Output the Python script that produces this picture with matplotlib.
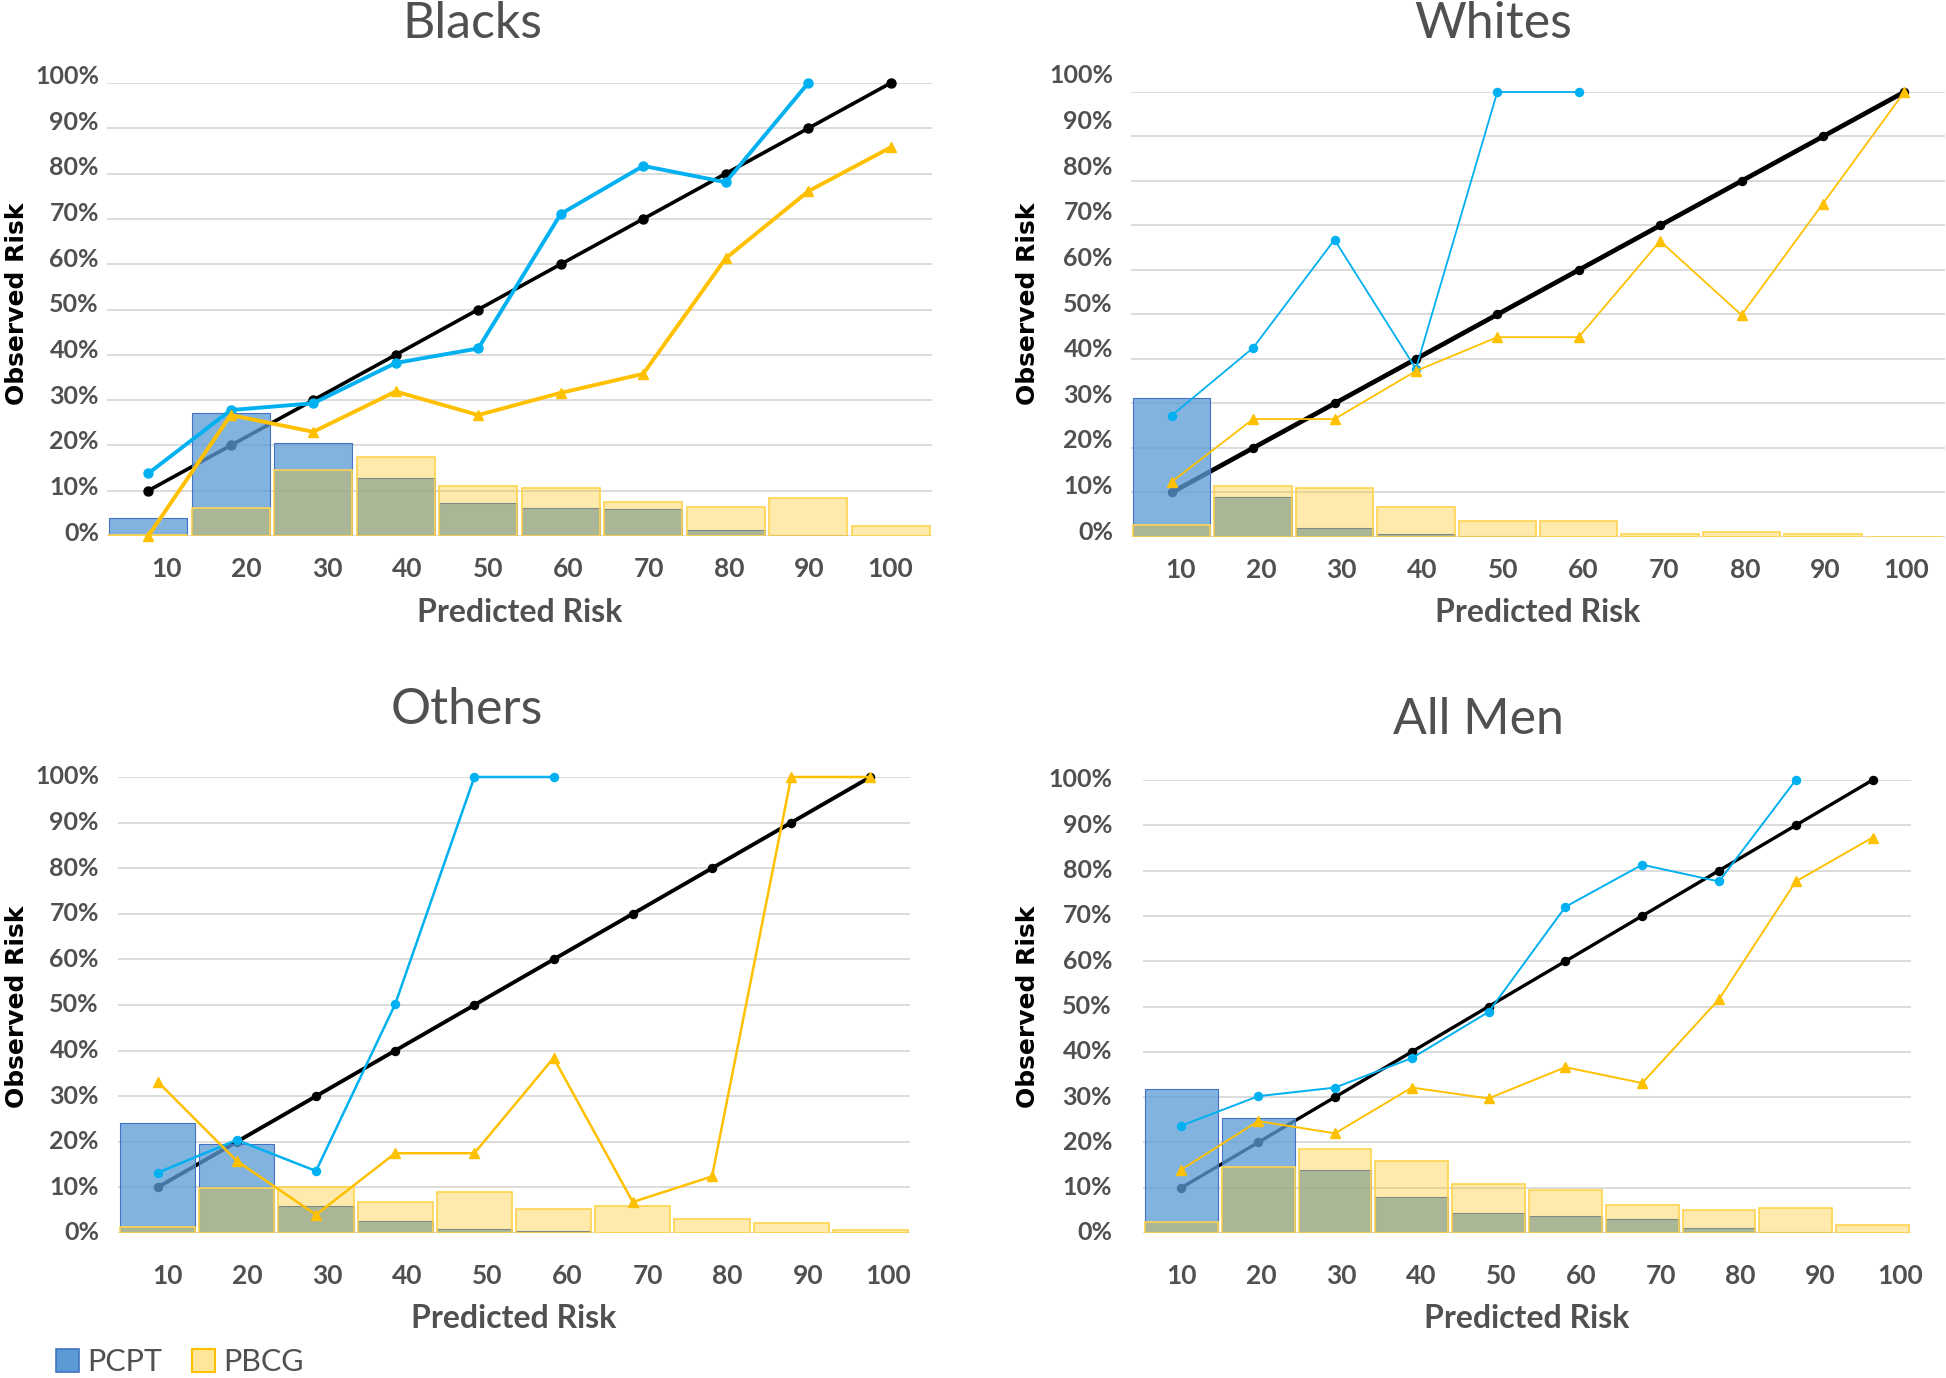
import numpy as np
import matplotlib
matplotlib.use("Agg")
import matplotlib.pyplot as plt
import matplotlib.transforms as mtransforms
from matplotlib.patches import Patch

risk_labels = ['10', '20', '30', '40', '50', '60', '70', '80', '90', '100']
pct_values = [0, 10, 20, 30, 40, 50, 60, 70, 80, 90, 100]
ideal_line = [10, 20, 30, 40, 50, 60, 70, 80, 90, 100]

# Blacks
blacks_pcpt_bar = [3.9, 27.1, 20.5, 12.8, 7.2, 6.2, 5.9, 1.4, 0.2, 0]
blacks_pbcg_bar = [0.2, 6.1, 14.5, 17.4, 11.0, 10.6, 7.5, 6.3, 8.3, 2.3]
blacks_pcpt_line = [13.8, 27.8, 29.3, 38.2, 41.4, 71.1, 81.7, 78.1, 100]
blacks_pbcg_line = [0, 26.7, 23.0, 31.9, 26.7, 31.6, 35.8, 61.3, 76.1, 85.8]

# Whites
whites_pcpt_bar = [31.3, 8.9, 2.0, 0.7, 0.3, 0.1, 0, 0, 0, 0]
whites_pbcg_bar = [2.8, 11.5, 11.0, 6.7, 3.5, 3.5, 0.7, 1.2, 0.6, 0.1]
whites_pcpt_line = [27.3, 42.5, 66.8, 37.8, 100, 100]
whites_pbcg_line = [12.4, 26.5, 26.5, 37.3, 44.9, 44.9, 66.5, 49.9, 74.9, 100]

# Others
others_pcpt_bar = [24.2, 19.5, 6.0, 2.6, 0.8, 0.4, 0, 0, 0, 0]
others_pbcg_bar = [1.4, 9.9, 10.1, 6.7, 9.1, 5.2, 6.0, 3.1, 2.1, 0.6]
others_pcpt_line = [13.2, 20.4, 13.6, 50.2, 100, 100]
others_pbcg_line = [33.2, 15.8, 4.0, 17.5, 17.5, 38.4, 6.8, 12.4, 100, 100]

# All Men
all_pcpt_bar = [31.8, 25.4, 13.8, 7.9, 4.5, 3.7, 3.2, 1.0, 0.3, 0]
all_pbcg_bar = [2.5, 14.6, 18.5, 15.8, 10.9, 9.6, 6.2, 5.1, 5.6, 1.7]
all_pcpt_line = [23.7, 30.2, 32.1, 38.6, 48.8, 72.0, 81.3, 77.6, 100]
all_pbcg_line = [14.0, 24.7, 22.0, 32.1, 29.7, 36.6, 33.1, 51.6, 77.6, 87.3]

W, H = 1946, 1378
GRAY = '#505050'
BLUE_BAR = '#5b9bd5'
YEL = '#ffc000'
BLUE_LINE = '#00b0f0'

fig = plt.figure(figsize=(W / 100, H / 100), dpi=100)


def px(x0, y0, x1, y1):
    return [x0 / W, 1 - y1 / H, (x1 - x0) / W, (y1 - y0) / H]


def panel(rect, title, title_xy, ylab_xy, pcpt_bar, pbcg_bar, pcpt_line, pbcg_line,
          lw_col, lw_black, ms, xt0, xt1, yt0, yt1, ypad, xpad, xlab_y):
    ax = fig.add_axes(rect)
    x = np.arange(10)
    for g in pct_values:
        ax.axhline(g, color='#d9d9d9', lw=1.3, zorder=0)
    ax.plot(x, ideal_line, color='black', lw=lw_black, marker='o', ms=ms,
            zorder=1, clip_on=False)
    ax.bar(x, pcpt_bar, width=0.95, facecolor=matplotlib.colors.to_rgba(BLUE_BAR, 0.76),
           edgecolor='#4472c4', lw=0.8, zorder=2)
    ax.bar(x, pbcg_bar, width=0.95, facecolor=matplotlib.colors.to_rgba(YEL, 0.32),
           edgecolor='#ffd34f', lw=1.2, zorder=3)
    ax.plot(x[:len(pcpt_line)], pcpt_line, color=BLUE_LINE, lw=lw_col, marker='o',
            ms=ms, zorder=4, clip_on=False)
    ax.plot(x[:len(pbcg_line)], pbcg_line, color=YEL, lw=lw_col, marker='^',
            ms=ms + 1, zorder=4, clip_on=False)
    ax.set_xlim(-0.5, 9.5)
    ax.set_ylim(0, 100)
    for s in ax.spines.values():
        s.set_visible(False)
    ax.set_xticks(np.linspace(xt0, xt1, 10))
    ax.set_xticklabels(risk_labels, fontfamily='Lato', fontweight='bold',
                       fontsize=19, color=GRAY)
    ax.tick_params(axis='x', length=0, pad=xpad)
    ax.set_yticks([])
    trans = mtransforms.blended_transform_factory(ax.transAxes, ax.transData) + \
        mtransforms.ScaledTranslation(-ypad / 100, 0, fig.dpi_scale_trans)
    for k, yv in zip(pct_values, np.linspace(yt0, yt1, 11)):
        ax.text(0, yv, f'{k}%', transform=trans, ha='right', va='center',
                fontfamily='Lato', fontweight='bold', fontsize=18, color=GRAY)
    cx = rect[0] + rect[2] / 2
    fig.text(cx, 1 - xlab_y / H, 'Predicted Risk', ha='center', va='center',
             fontfamily='Lato', fontweight='bold', fontsize=23, color=GRAY)
    fig.text(title_xy[0] / W, 1 - title_xy[1] / H, title, ha='center', va='center',
             fontfamily='Lato', fontsize=36, color=GRAY)
    fig.text(ylab_xy[0] / W, 1 - ylab_xy[1] / H, 'Observed Risk', rotation=90,
             ha='center', va='center', fontfamily='DejaVu Sans', fontweight='bold',
             fontsize=18, color='black')
    return ax


panel(px(107, 83, 932, 536), 'Blacks', (472, 24), (17, 304),
      blacks_pcpt_bar, blacks_pbcg_bar, blacks_pcpt_line, blacks_pbcg_line,
      2.8, 2.6, 6.5, 0.22, 8.99, 0.63, 101.4, 8, 15, 613)
panel(px(1131, 92, 1945, 537), 'Whites', (1493, 24), (1028, 304),
      whites_pcpt_bar, whites_pbcg_bar, whites_pcpt_line, whites_pbcg_line,
      1.3, 3.4, 5.8, 0.11, 9.02, 1.1, 103.6, 18, 15, 613)
panel(px(118, 777, 910, 1233), 'Others', (467, 710), (17, 1007),
      others_pcpt_bar, others_pbcg_bar, others_pcpt_line, others_pbcg_line,
      1.8, 2.8, 5.8, 0.12, 9.22, 0, 100, 19, 22, 1319)
panel(px(1143, 780, 1911, 1233), 'All Men', (1478, 720), (1028, 1007),
      all_pcpt_bar, all_pbcg_bar, all_pcpt_line, all_pbcg_line,
      1.4, 2.4, 5.8, 0.0, 9.36, 0, 100, 31, 22, 1319)

handles = [Patch(facecolor=BLUE_BAR, edgecolor='#4472c4', lw=1.2, label='PCPT'),
           Patch(facecolor='#ffe699', edgecolor=YEL, lw=1.5, label='PBCG')]
leg = fig.legend(handles=handles, loc='center left', bbox_to_anchor=(44 / W, 1 - 1362 / H),
                 ncol=2, frameon=False, handlelength=0.75, handleheight=0.75,
                 handletextpad=0.25, columnspacing=1.0, borderaxespad=0,
                 prop={'family': 'Lato', 'size': 22})
for t in leg.get_texts():
    t.set_color(GRAY)

fig.savefig('out.png', dpi=100, facecolor='white')
